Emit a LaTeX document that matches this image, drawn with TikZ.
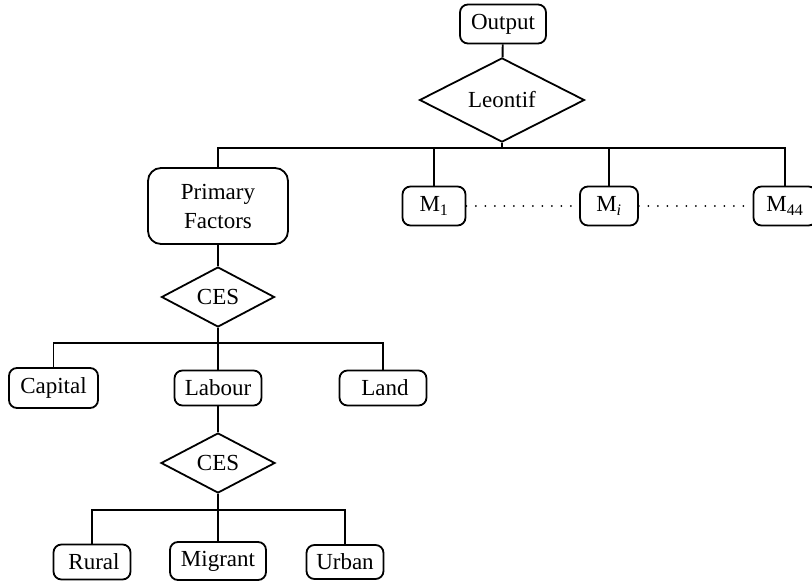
\documentclass[tikz,border=0pt]{standalone}
\usepackage{fontspec}
\setmainfont{Liberation Serif}
\usetikzlibrary{shapes.geometric}
\begin{document}
\begin{tikzpicture}[x=1pt,y=-1pt,
  every node/.style={font=\fontsize{23}{29}\selectfont, inner sep=0pt},
  rbox/.style={draw, line width=1.8pt, rectangle, rounded corners=8pt, align=center},
  dia/.style={draw, line width=1.8pt, diamond, minimum width=#1, minimum height=60pt},
  conn/.style={line width=1.9pt},
  dots/.style={line width=2pt, line cap=round, dash pattern=on 0pt off 9.5pt}
]
\useasboundingbox (0,0) rectangle (812,581);
% top
\node[rbox, minimum width=86pt, minimum height=39pt] (out) at (503,24) {Output};
\node[dia=165pt] (leo) at (502,100) {Leontif};
\coordinate (b1) at (502,148);
\node[rbox, minimum width=140pt, minimum height=76pt, rounded corners=13pt] (pf) at (218,206) {Primary\\Factors};
\node[rbox, minimum width=63pt, minimum height=39pt] (m1) at (434,206) {M\textsubscript{1}};
\node[rbox, minimum width=58pt, minimum height=39pt] (mi) at (609,206) {M\textsubscript{\textit{i}}};
\node[rbox, minimum width=63pt, minimum height=39pt] (m44) at (785,206) {M\textsubscript{44}};
\draw[conn] (out) -- (leo);
\draw[conn] (leo) -- (b1);
\draw[conn] (pf) |- (b1) -| (m44);
\draw[conn] (m1) -- (m1 |- b1);
\draw[conn] (mi) -- (mi |- b1);
\draw[dots] (m1) -- (mi);
\draw[dots] (mi) -- (m44);
% primary factors
\node[dia=113pt] (ces1) at (218,297) {CES};
\coordinate (b2) at (218,343);
\node[rbox, minimum width=89pt, minimum height=40pt] (cap) at (53.5,388) {Capital};
\node[rbox, minimum width=87pt, minimum height=35pt] (lab) at (218,388) {Labour};
\node[rbox, minimum width=87pt, minimum height=35pt] (land) at (383,388) {\hspace{4pt}Land};
\draw[conn] (pf) -- (ces1);
\draw[conn] (ces1) -- (lab);
\draw[conn] (cap) |- (b2) -| (land);
% labour
\node[dia=114pt] (ces2) at (218,463) {CES};
\coordinate (b3) at (218,510);
\node[rbox, minimum width=77pt, minimum height=35pt] (rur) at (92,562) {\hspace{4pt}Rural};
\node[rbox, minimum width=96pt, minimum height=38pt] (mig) at (218,561) {Migrant};
\node[rbox, minimum width=77pt, minimum height=34pt] (urb) at (345,562) {Urban};
\draw[conn] (lab) -- (ces2);
\draw[conn] (ces2) -- (mig);
\draw[conn] (rur) |- (b3) -| (urb);
\end{tikzpicture}
\end{document}
